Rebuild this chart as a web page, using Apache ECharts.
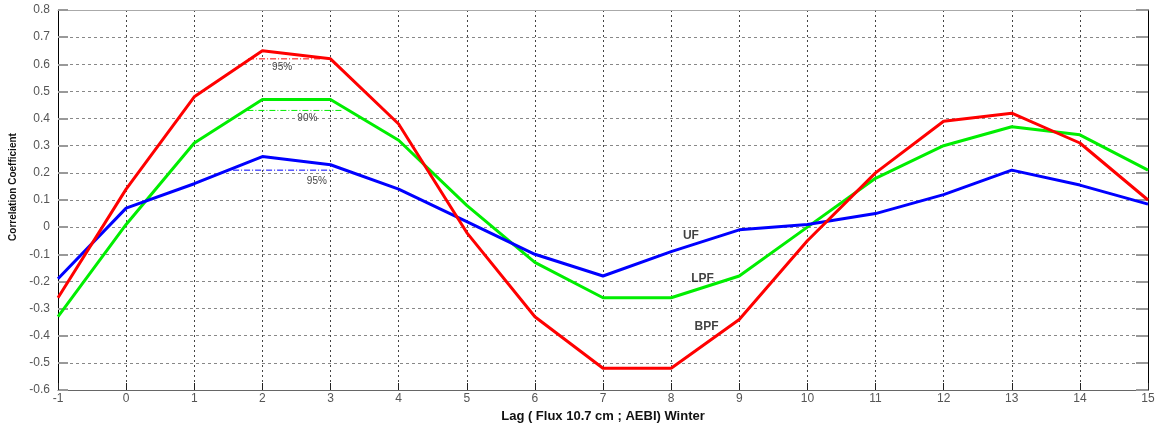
<!DOCTYPE html>
<html>
<head>
<meta charset="utf-8">
<script src="https://cdn.jsdelivr.net/npm/echarts@6/dist/echarts.min.js"></script>
<style>
  html, body { margin: 0; padding: 0; background: #fff; }
  #chart { width: 1160px; height: 423px; }
</style>
</head>
<body>
<div id="chart"></div>
<script>
const lags = [-1, 0, 1, 2, 3, 4, 5, 6, 7, 8, 9, 10, 11, 12, 13, 14, 15]
const bpfData = [-0.26, 0.14, 0.48, 0.65, 0.62, 0.38, -0.02, -0.33, -0.52, -0.52, -0.34, -0.05, 0.2, 0.39, 0.42, 0.31, 0.1]
const lpfData = [-0.33, 0.01, 0.31, 0.47, 0.47, 0.32, 0.08, -0.13, -0.26, -0.26, -0.18, 0, 0.18, 0.3, 0.37, 0.34, 0.21]
const ufData = [-0.19, 0.07, 0.16, 0.26, 0.23, 0.14, 0.02, -0.1, -0.18, -0.09, -0.01, 0.01, 0.05, 0.12, 0.21, 0.155, 0.085]

// significance levels: [from lag, to lag, level]
const bpfSig = [1.79, 2.85, 0.62]
const lpfSig = [1.78, 3.18, 0.43]
const ufSig = [1.57, 3.04, 0.21]

const RED = '#ff0000'
const GREEN = '#00ee00'
const BLUE = '#0000ff'

const pairs = (values) => lags.map((x, i) => [x, values[i]])

const mainLine = (name, values, color) => ({
  name,
  type: 'line',
  data: pairs(values),
  symbol: 'none',
  lineStyle: { width: 3, color },
  itemStyle: { color },
  z: 3,
})

const sigLine = (sig, color, text, labelAt) => ({
  type: 'line',
  data: [[sig[0], sig[2]], [sig[1], sig[2]]],
  symbol: 'none',
  lineStyle: { width: 1, color, type: [6, 2, 1, 2] },
  z: 2,
  markPoint: {
    symbol: 'circle',
    symbolSize: 0,
    data: [{ coord: labelAt, value: text }],
    label: { show: true, color: '#444', fontSize: 10, fontFamily: 'Liberation Sans' },
  },
})

const nameLabel = (text, at) => ({
  type: 'scatter',
  data: [at],
  symbolSize: 0,
  silent: true,
  label: {
    show: true,
    formatter: text,
    position: 'inside',
    color: '#111',
    fontSize: 12,
    fontWeight: 'bold',
    fontFamily: 'Liberation Sans',
  },
})

const chart = echarts.init(document.getElementById('chart'))
const axisFont = { color: '#555', fontSize: 12, fontFamily: 'Liberation Sans' }

chart.setOption({
  animation: false,
  grid: {
    left: 58, right: 12, top: 10, bottom: 33,
    outerBoundsMode: 'none',
  },
  xAxis: [
    {
      type: 'value',
      min: -1,
      max: 15,
      interval: 1,
      name: 'Lag ( Flux 10.7 cm ; AEBI) Winter',
      nameLocation: 'middle',
      nameGap: 16,
      nameTextStyle: { color: '#111', fontSize: 13, fontWeight: 'bold', fontFamily: 'Liberation Sans' },
      axisLine: { show: true, onZero: false, lineStyle: { color: '#666' } },
      axisTick: { show: true, inside: true, length: 7, lineStyle: { color: '#222' } },
      axisLabel: { ...axisFont, margin: 3 },
      splitLine: { show: true, lineStyle: { color: '#444', type: [2, 3], width: 1 } },
    },
    {
      type: 'value',
      position: 'top',
      min: -1,
      max: 15,
      interval: 1,
      axisLine: { show: true, onZero: false, lineStyle: { color: '#aaa' } },
      axisTick: { show: false },
      axisLabel: { show: false },
      splitLine: { show: false },
    },
  ],
  yAxis: [
    {
      type: 'value',
      min: -0.6,
      max: 0.8,
      interval: 0.1,
      name: 'Correlation Coefficient',
      nameLocation: 'middle',
      nameGap: 38,
      nameTextStyle: {
        color: '#111', fontSize: 10, fontWeight: 'bold',
        fontFamily: '"Liberation Sans Narrow", "Liberation Sans", sans-serif',
        padding: [0, 0, 0, 26],
      },
      axisLine: { show: true, onZero: false, lineStyle: { color: '#000' } },
      axisTick: { show: true, inside: true, length: 10, lineStyle: { color: '#999', width: 2 } },
      axisLabel: {
        ...axisFont,
        margin: 8,
        formatter: (v) => (Math.abs(v) < 1e-9 ? '0' : String(Math.round(v * 10) / 10)),
      },
      splitLine: { show: true, lineStyle: { color: '#888', type: [3, 3], width: 1 } },
    },
    {
      type: 'value',
      position: 'right',
      min: -0.6,
      max: 0.8,
      interval: 0.1,
      axisLine: { show: true, onZero: false, lineStyle: { color: '#000' } },
      axisTick: { show: true, inside: true, length: 12, lineStyle: { color: '#999', width: 2 } },
      axisLabel: { show: false },
      splitLine: { show: false },
    },
  ],
  series: [
    sigLine(bpfSig, RED, '95%', [2.29, 0.59]),
    sigLine(lpfSig, GREEN, '90%', [2.66, 0.4]),
    sigLine(ufSig, BLUE, '95%', [2.8, 0.17]),
    mainLine('LPF', lpfData, GREEN),
    mainLine('UF', ufData, BLUE),
    mainLine('BPF', bpfData, RED),
    nameLabel('UF', [8.29, -0.03]),
    nameLabel('LPF', [8.46, -0.19]),
    nameLabel('BPF', [8.52, -0.365]),
  ],
})
</script>
</body>
</html>
